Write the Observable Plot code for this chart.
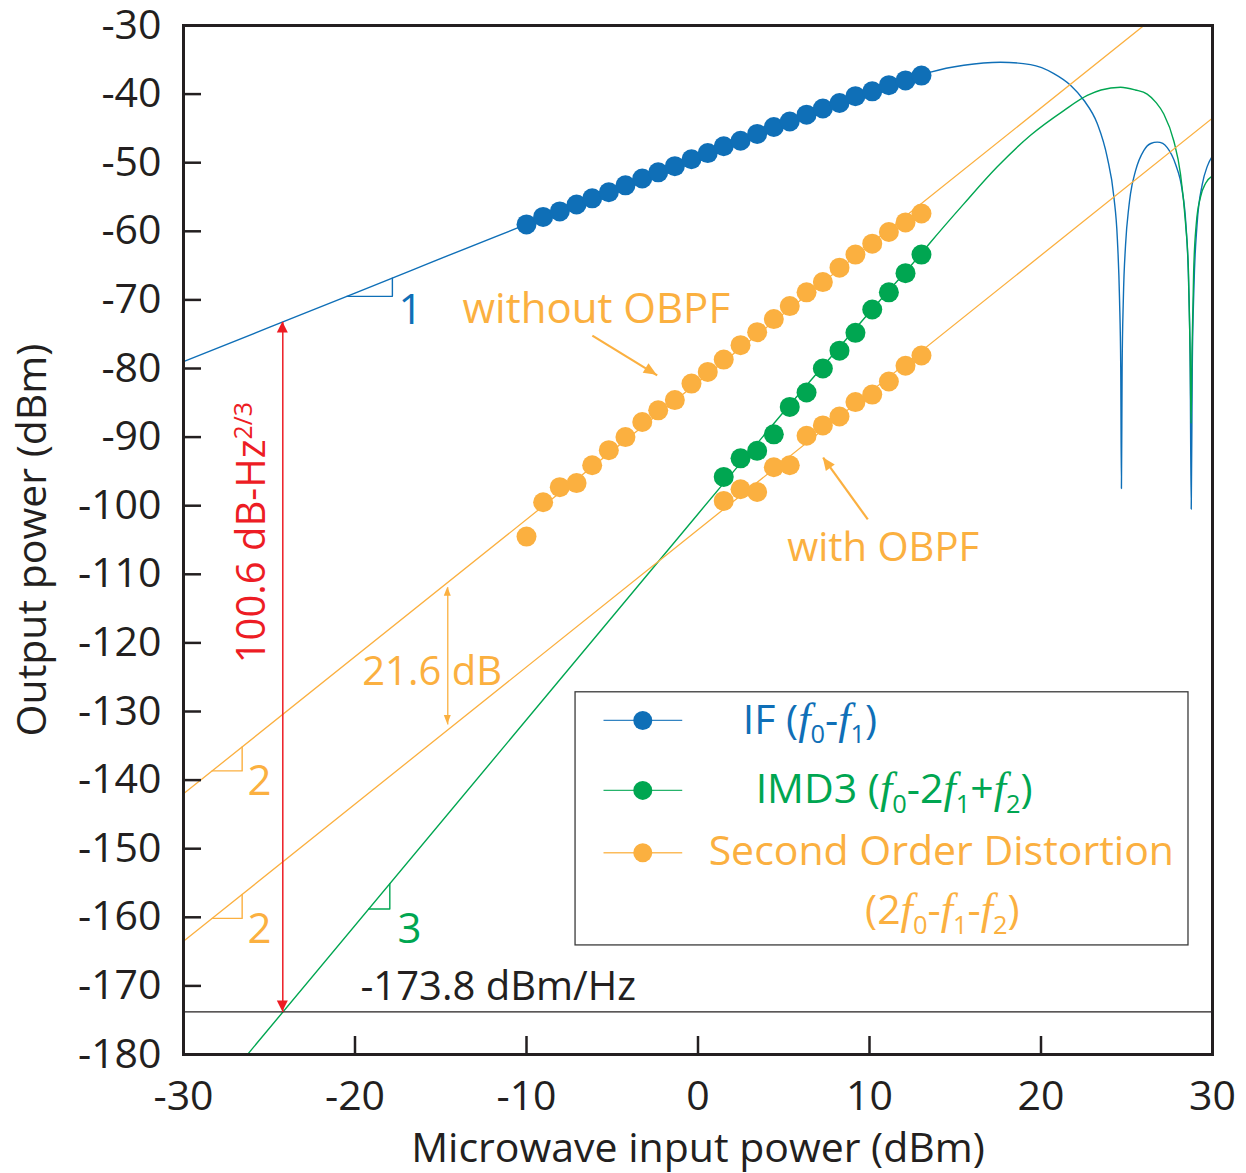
<!DOCTYPE html>
<html><head><meta charset="utf-8">
<script src="https://cdn.jsdelivr.net/npm/d3@7"></script>
<script src="https://cdn.jsdelivr.net/npm/@observablehq/plot@0.6"></script>
<style>
body{margin:0;background:#fff;}
#chart{width:1246px;height:1173px;}
</style></head><body><div id="chart"></div>
<script>
const FONT = "'Open Sans', 'Noto Sans', sans-serif";
const BLUE = "#0f6fb7", GREEN = "#00a651", ORANGE = "#fbb040", RED = "#ed1c24", INK = "#231f20";

const measX = [-10.0,-9.03,-8.06,-7.08,-6.17,-5.2,-4.23,-3.25,-2.32,-1.35,-0.38,0.57,1.5,2.48,3.45,4.42,5.35,6.33,7.28,8.25,9.18,10.16,11.13,12.1,13.03];
const ifMeas = [-59.0,-57.9,-57.1,-56.1,-55.2,-54.3,-53.3,-52.3,-51.4,-50.5,-49.5,-48.6,-47.6,-46.8,-45.8,-44.8,-44.0,-43.0,-42.1,-41.3,-40.3,-39.6,-38.7,-38.0,-37.3];
const sodNoFilter = [-104.5,-99.5,-97.3,-96.7,-94.1,-91.9,-90.0,-87.8,-86.1,-84.6,-82.2,-80.5,-78.7,-76.6,-74.7,-72.8,-70.9,-68.9,-67.4,-65.3,-63.4,-61.8,-60.1,-58.7,-57.4];
const highX = [1.5,2.48,3.45,4.42,5.35,6.33,7.28,8.25,9.18,10.16,11.13,12.1,13.03];
const imd3Meas = [-95.8,-93.1,-92.0,-89.6,-85.6,-83.5,-80.0,-77.4,-74.8,-71.4,-68.9,-66.1,-63.4];
const sodFilter = [-99.3,-97.6,-98.0,-94.4,-94.1,-89.8,-88.3,-87.0,-84.9,-83.8,-81.9,-79.6,-78.1];

// ---- simulated curves ----
const ifSimX = [-30,-20,-10,-5,0,5,10,13.03,13.56,15.5,17.64,19.39,20.75,21.72,22.5,23.28,23.86,24.25,24.45,24.58,24.65,24.69,24.73,24.8,24.93,25.12,25.22,25.51,26.0,26.4,26.78,27.1,27.36,27.84,28.23,28.45,28.6,28.7,28.76,28.82,28.92,29.1,29.4,29.7,30];
const ifSimY = [-79,-69,-59,-54.2,-49.3,-44.5,-40.0,-37.2,-36.8,-35.8,-35.35,-35.7,-37.0,-38.7,-40.9,-44.3,-49.2,-55,-61,-70,-80,-97.5,-80,-70,-62,-56.5,-54.5,-51.2,-48.2,-47.2,-47.0,-47.2,-47.8,-50.2,-54.0,-59,-67,-80,-100.5,-80,-68,-59,-53.2,-50.5,-49.0];
const imdSimX = [-26.27,0,5,10,13.03,13.56,15.5,17.45,19.39,21.33,22.7,23.5,24.64,25.5,26.19,26.7,27.16,27.74,28.13,28.43,28.6,28.7,28.75,28.8,28.9,29.05,29.3,29.6,30];
const imdSimY = [-180,-101.2,-86.3,-71.8,-63.2,-61.6,-56.0,-50.6,-46.0,-42.4,-40.2,-39.4,-39.0,-39.4,-40.0,-41.2,-42.9,-46.8,-51.6,-58.9,-66,-78,-88,-78,-66,-59,-55,-53,-51.9];
const sodNoFilterSimX = [-30,26];
const sodNoFilterSimY = [-142,-30];
const sodFilterSimX = [-30,30];
const sodFilterSimY = [-163.5,-43.5];

const noiseFloor = -173.8;
const xTicks = [-30,-20,-10,0,10,20,30];
const yTicks = [-30,-40,-50,-60,-70,-80,-90,-100,-110,-120,-130,-140,-150,-160,-170,-180];

// ---- annotations ----
const slopeTriangles = [
  {color: BLUE,   xs: [-20.48,-17.82,-17.82], ys: [-69.48,-69.48,-66.82], label: "1", lx: -16.76, ly: -71.5},
  {color: ORANGE, xs: [-28.33,-26.58,-26.58], ys: [-138.66,-138.66,-135.16], label: "2", lx: -25.57, ly: -140.2},
  {color: ORANGE, xs: [-28.33,-26.58,-26.58], ys: [-160.16,-160.16,-156.66], label: "2", lx: -25.57, ly: -161.85},
  {color: GREEN,  xs: [-19.2,-17.97,-17.97], ys: [-158.8,-158.8,-155.1], label: "3", lx: -16.82, ly: -161.85}
];
const arrows = [
  {color: RED, x1: -24.21, y1: -73.21, x2: -24.21, y2: -173.8, both: true, w: 1.5, head: 11, hw: 5.5},
  {color: ORANGE, x1: -14.59, y1: -111.9, x2: -14.59, y2: -131.9, both: true, w: 1.3, head: 9, hw: 3.5},
  {color: ORANGE, x1: -6.16, y1: -75.2, x2: -2.38, y2: -81.0, both: false, w: 2.2, head: 13, hw: 5.5},
  {color: ORANGE, x1: 9.9, y1: -102.0, x2: 7.3, y2: -93.0, both: false, w: 2.2, head: 13, hw: 5.5}
];
const plainLabels = [
  {text: "without OBPF", x: -13.73, y: -73.3, color: ORANGE, size: 42},
  {text: "with OBPF", x: 5.2, y: -108.1, color: ORANGE, size: 40},
  {text: "21.6 dB", x: -19.58, y: -126.1, color: ORANGE, size: 40},
  {text: "-173.8 dBm/Hz", x: -19.68, y: -172.1, color: INK, size: 40}
];
const legendBox = {x1: -7.14, x2: 28.6, y1: -127.2, y2: -164.1};
const legendRows = [
  {color: BLUE, y: -131.3, tx: 2.64, ty: -133.28, parts: [{t:"IF ("},{t:"f",it:1},{t:"0",sub:1},{t:"-"},{t:"f",it:1},{t:"1",sub:1},{t:")"}]},
  {color: GREEN, y: -141.5, tx: 3.39, ty: -143.41, parts: [{t:"IMD3 ("},{t:"f",it:1},{t:"0",sub:1},{t:"-2"},{t:"f",it:1},{t:"1",sub:1},{t:"+"},{t:"f",it:1},{t:"2",sub:1},{t:")"}]},
  {color: ORANGE, y: -150.6, tx: 0.65, ty: -152.39, parts: [{t:"Second Order Distortion"}]},
  {color: null, y: null, tx: 9.77, ty: -161.05, parts: [{t:"(2"},{t:"f",it:1},{t:"0",sub:1},{t:"-"},{t:"f",it:1},{t:"1",sub:1},{t:"-"},{t:"f",it:1},{t:"2",sub:1},{t:")"}], fill: ORANGE}
];
const legendSwatch = {x1: -5.51, x2: -0.92, xd: -3.22};
const snrLabel = {x: -25.22, y: -123.05, parts: [{t:"100.6 dB-Hz"},{t:"2/3",sup:1}]};

const pts = (xs, ys) => xs.map((x, i) => ({x, y: ys[i]}));
const lines = [
  {d: pts(ifSimX, ifSimY), c: BLUE, w: 1.4},
  {d: pts(imdSimX, imdSimY), c: GREEN, w: 1.4},
  {d: pts(sodNoFilterSimX, sodNoFilterSimY), c: ORANGE, w: 1.3},
  {d: pts(sodFilterSimX, sodFilterSimY), c: ORANGE, w: 1.3}
];
const dots = [
  {d: pts(measX, ifMeas), c: BLUE},
  {d: pts(measX, sodNoFilter), c: ORANGE},
  {d: pts(highX, sodFilter), c: ORANGE},
  {d: pts(highX, imd3Meas), c: GREEN}
];

const W = 1246, H = 1173, ML = 183, MR = 34, MT = 25, MB = 119;
const innerW = W - ML - MR, innerH = H - MT - MB;

const plot = Plot.plot({
  width: W, height: H,
  marginLeft: ML, marginRight: MR, marginTop: MT, marginBottom: MB,
  style: {fontFamily: FONT, fontSize: "41px", color: INK, background: "white", overflow: "visible"},
  x: {domain: [-30, 30], ticks: xTicks, tickSize: 0, tickPadding: 26, label: null, tickFormat: d => String(d)},
  y: {domain: [-180, -30], ticks: yTicks, tickSize: 0, tickPadding: 22, label: null, tickFormat: d => String(d)},
  marks: [
    ...lines.map(l => Plot.line(l.d, {x: "x", y: "y", stroke: l.c, strokeWidth: l.w, curve: "monotone-x", clip: true})),
    Plot.ruleY([noiseFloor], {stroke: INK, strokeWidth: 1.2}),
    ...slopeTriangles.map(t => Plot.line(pts(t.xs, t.ys), {x: "x", y: "y", stroke: t.color, strokeWidth: 1.4})),
    Plot.text(slopeTriangles, {x: "lx", y: "ly", text: "label", fill: "color", fontSize: 42, lineAnchor: "middle", textAnchor: "middle"}),
    Plot.link(arrows, {x1: "x1", y1: "y1", x2: "x2", y2: "y2", stroke: "color", strokeWidth: "w"}),
    ...plainLabels.map(l => Plot.text([l], {x: "x", y: "y", text: "text", fill: l.color, fontSize: l.size, textAnchor: "start", lineAnchor: "bottom"})),
    ...dots.map(s => Plot.dot(s.d, {x: "x", y: "y", r: 10, fill: s.c, stroke: null})),
    Plot.rect([legendBox], {x1: "x1", x2: "x2", y1: "y1", y2: "y2", fill: "white", stroke: "#3b3b3b", strokeWidth: 1.3}),
    Plot.link(legendRows.filter(r => r.color), {x1: () => legendSwatch.x1, x2: () => legendSwatch.x2, y1: "y", y2: "y", stroke: "color", strokeWidth: 1.4, strokeOpacity: 0.85}),
    Plot.dot(legendRows.filter(r => r.color), {x: () => legendSwatch.xd, y: "y", r: 9.5, fill: "color"}),
    Plot.ruleX(xTicks, {stroke: INK, strokeWidth: 2.5, insetTop: innerH - 18}),
    Plot.ruleY(yTicks, {stroke: INK, strokeWidth: 2.5, insetRight: innerW - 18}),
    Plot.frame({stroke: INK, strokeWidth: 3}),
    Plot.text(["Microwave input power (dBm)"], {frameAnchor: "bottom", dy: 107, lineAnchor: "bottom", textAnchor: "middle", fill: INK, fontSize: 41}),
    Plot.text(["Output power (dBm)"], {frameAnchor: "left", dx: -138, rotate: -90, lineAnchor: "bottom", textAnchor: "middle", fill: INK, fontSize: 41})
  ]
});
document.getElementById("chart").appendChild(plot);

// ---- rich text and arrowheads ----
const svg = d3.select(plot);
const xsc = plot.scale("x"), ysc = plot.scale("y");
const sx = d3.scaleLinear(xsc.domain, xsc.range), sy = d3.scaleLinear(ysc.domain, ysc.range);
const g = svg.append("g").attr("text-anchor", "start");

function head(x, y, fromX, fromY, color, L, hw) {
  const a = Math.atan2(y - fromY, x - fromX);
  const bx = x - L * Math.cos(a), by = y - L * Math.sin(a);
  const nx = -Math.sin(a) * hw, ny = Math.cos(a) * hw;
  g.append("path").attr("d", `M${x},${y}L${bx + nx},${by + ny}L${bx - nx},${by - ny}Z`).attr("fill", color);
}
for (const a of arrows) {
  const X1 = sx(a.x1), Y1 = sy(a.y1), X2 = sx(a.x2), Y2 = sy(a.y2);
  head(X2, Y2, X1, Y1, a.color, a.head, a.hw);
  if (a.both) head(X1, Y1, X2, Y2, a.color, a.head, a.hw);
}

function rich(x, y, parts, fill, size, rotate) {
  const t = g.append("text").attr("x", x).attr("y", y).attr("fill", fill)
    .attr("text-anchor", "start").attr("font-size", size).attr("font-family", FONT);
  if (rotate) t.attr("transform", `rotate(${rotate},${x},${y})`);
  let shift = 0;
  for (const p of parts) {
    const s = t.append("tspan").text(p.t);
    const target = p.sub ? size * 0.24 : p.sup ? -size * 0.32 : 0;
    if (target !== shift) { s.attr("dy", target - shift); shift = target; }
    if (p.sub || p.sup) s.attr("font-size", size * 0.62);
    if (p.it) s.attr("font-family", "'Liberation Serif', 'DejaVu Serif', serif").attr("font-style", "italic").attr("font-size", size * 1.08);
  }
}
for (const r of legendRows) rich(sx(r.tx), sy(r.ty), r.parts, r.color || r.fill, 41);
rich(sx(snrLabel.x), sy(snrLabel.y), snrLabel.parts, RED, 40, -90);
</script></body></html>
